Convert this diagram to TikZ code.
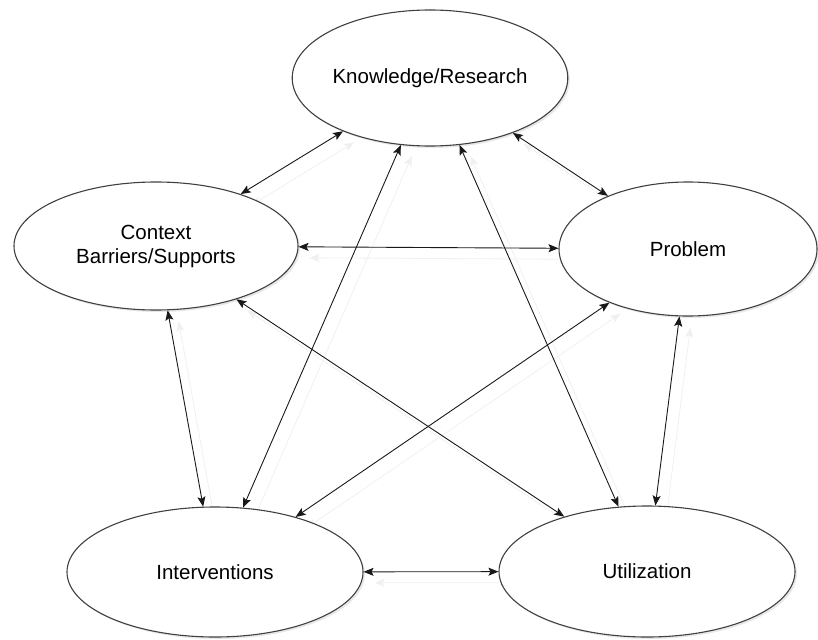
\documentclass[tikz,border=0pt]{standalone}
\usepackage{fontspec}
\setmainfont{Liberation Sans}
\usetikzlibrary{arrows.meta,shapes.geometric,shadows}
\pgfdeclarelayer{background}
\pgfsetlayers{background,main}
\begin{document}
\begin{tikzpicture}[x=1pt,y=-1pt,
  ell/.style={ellipse, draw=black!75, line width=1.1pt, fill=white, inner sep=0pt,
    font=\fontsize{20.5}{24}\selectfont,
    drop shadow={shadow xshift=2pt, shadow yshift=-2pt, opacity=0.18}},
  tip/.tip={Stealth[length=10pt,width=8pt,inset=2pt]},
  link/.style={tip-tip, line width=0.9pt, draw=black!90},
  ghost/.style={tip-tip, line width=0.8pt, draw=black!6, transform canvas={shift={(11pt,-11pt)}}}
]
\useasboundingbox (0,0) rectangle (818,639);

\node[ell, minimum width=275pt, minimum height=136pt] (K) at (430,78) {Knowledge/Research};
\node[ell, minimum width=284pt, minimum height=128pt, align=center] (C) at (156,246) {Context\\Barriers/Supports};
\node[ell, minimum width=258pt, minimum height=134pt] (P) at (688,249) {Problem};
\node[ell, minimum width=296pt, minimum height=130pt] (I) at (215,572) {Interventions};
\node[ell, minimum width=296pt, minimum height=131pt] (U) at (647,571.5) {Utilization};

\begin{pgfonlayer}{background}
  \foreach \a/\b in {K/C,K/P,C/P,C/I,C/U,K/I,K/U,P/I,P/U,I/U}
    \draw[ghost] (\a) -- (\b);
\end{pgfonlayer}

\foreach \a/\b in {K/C,K/P,C/P,C/I,C/U,K/I,K/U,P/I,P/U,I/U}
  \draw[link] (\a) -- (\b);
\end{tikzpicture}
\end{document}
